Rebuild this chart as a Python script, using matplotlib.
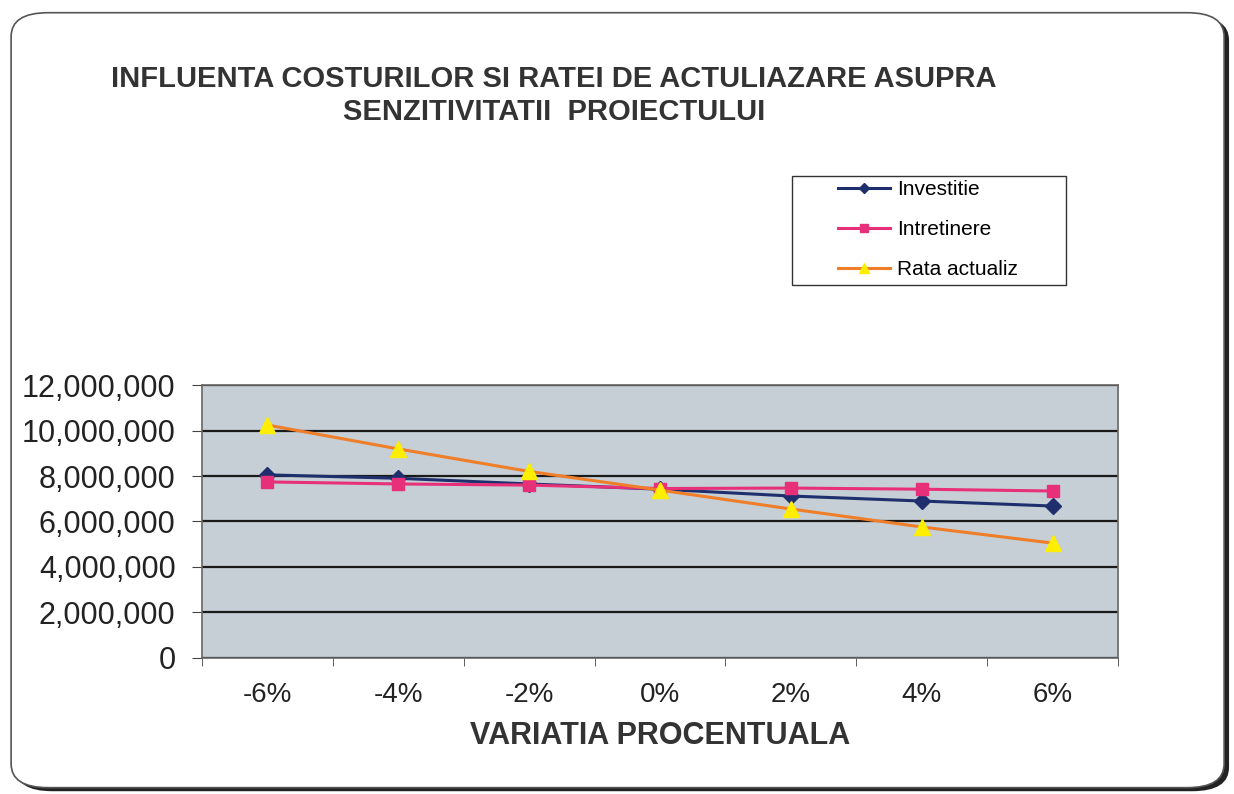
import numpy as np
import matplotlib.pyplot as plt
from matplotlib.patches import FancyBboxPatch, Rectangle
from matplotlib.ticker import FuncFormatter

categories = ['-6%', '-4%', '-2%', '0%', '2%', '4%', '6%']
investitie = [8050000, 7900000, 7650000, 7420000, 7120000, 6900000, 6680000]
intretinere = [7740000, 7650000, 7600000, 7450000, 7470000, 7420000, 7340000]
rata_actualiz = [10240000, 9190000, 8200000, 7380000, 6550000, 5760000, 5050000]

plt.rcParams['font.family'] = ['Liberation Sans', 'DejaVu Sans']

fig = plt.figure(figsize=(12.34, 7.94), dpi=100)

# rounded frame with a dark shadow on the right / bottom
shadow = FancyBboxPatch((0.0125, 0.0035), 0.9835, 0.976, boxstyle='round,pad=0,rounding_size=0.03',
                        transform=fig.transFigure, facecolor='#222222', edgecolor='none', zorder=0)
frame = FancyBboxPatch((0.009, 0.008), 0.983, 0.976, boxstyle='round,pad=0,rounding_size=0.03',
                       transform=fig.transFigure, facecolor='white', edgecolor='#555555', linewidth=1.2, zorder=1)
fig.patches.extend([shadow, frame])

ax = fig.add_axes([0.1637, 0.1713, 0.7423, 0.3438])
ax.set_zorder(2)
ax.set_facecolor('#c5cfd5')

x = np.arange(len(categories))
ax.plot(x, investitie, color='#1f2f6e', marker='D', markersize=8, linewidth=2.2, label='Investitie', zorder=4)
ax.plot(x, intretinere, color='#e8307a', marker='s', markersize=9, linewidth=2.2, label='Intretinere', zorder=4)
ax.plot(x, rata_actualiz, color='#f07d28', marker='^', markersize=11, markerfacecolor='#ffee00',
        markeredgecolor='#ffee00', linewidth=2.2, label='Rata actualiz', zorder=5)

ax.set_xlim(-0.5, len(categories) - 0.5)
ax.set_ylim(0, 12000000)
ax.set_yticks(np.arange(0, 12000001, 2000000))
ax.yaxis.set_major_formatter(FuncFormatter(lambda v, p: f'{int(v):,}'))
ax.set_xticks(x)
ax.set_xticklabels(categories)
ax.set_xticks(np.arange(-0.5, len(categories)), minor=True)
ax.tick_params(axis='x', which='major', length=0, labelsize=20, pad=17, colors='#222222')
ax.tick_params(axis='x', which='minor', length=6, color='#444444')
ax.tick_params(axis='y', labelsize=22, length=7, pad=12, color='#444444', labelcolor='#222222')
ax.yaxis.grid(True, color='#1a1a1a', linewidth=1.6)
ax.set_axisbelow(True)
for s in ax.spines.values():
    s.set_color('#666666')
    s.set_linewidth(1.2)

ax.set_xlabel('VARIATIA PROCENTUALA', fontsize=22, fontweight='bold', color='#333333', labelpad=10)

fig.text(0.449, 0.880, 'INFLUENTA COSTURILOR SI RATEI DE ACTULIAZARE ASUPRA\nSENZITIVITATII  PROIECTULUI',
         ha='center', va='center', fontsize=21, fontweight='bold', color='#333333', linespacing=1.22)

# legend frame drawn separately so the entries can sit indented like the original
fig.patches.append(Rectangle((0.6418, 0.6411), 0.222, 0.1373, transform=fig.transFigure,
                             facecolor='white', edgecolor='#333333', linewidth=1.0, zorder=3))
leg = fig.legend(loc='upper left', bbox_to_anchor=(0.679, 0.773), fontsize=15, frameon=False,
                 borderpad=0, borderaxespad=0, labelspacing=1.0, handlelength=2.5,
                 handletextpad=0.35, markerscale=0.7)
leg.set_zorder(4)

fig.savefig('out.png', dpi=100)
